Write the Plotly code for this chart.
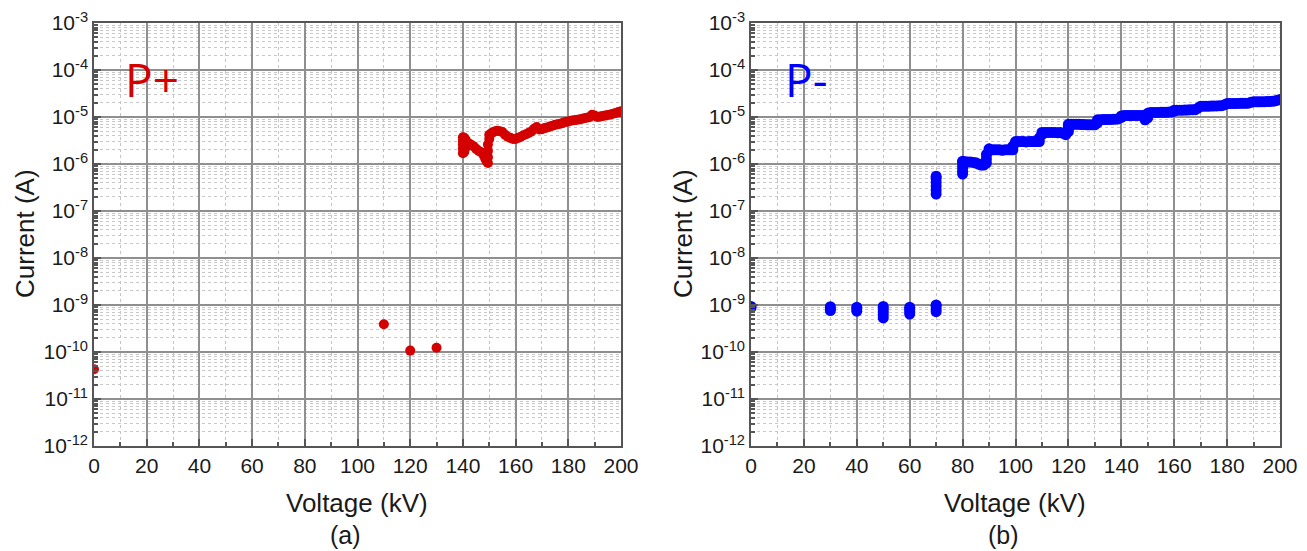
import plotly.graph_objects as go

# ---------------- data ----------------
# Panel (a): P+ polarity
pplus_voltage = [0, 110, 120, 130,
                 140, 140, 140, 140, 140, 140.5, 140.5, 140.5, 140.5, 141, 141,
                 142, 143, 144, 145, 146, 147, 148, 148.5, 149,
                 149.5, 149.5, 149.5, 149.5, 150, 150,
                 151, 152, 153, 154, 155, 156, 157, 158, 159, 160,
                 161, 162, 163, 164, 165, 166, 167, 168, 169, 170,
                 171, 172, 173, 174, 175, 176, 177, 178, 179, 180,
                 181, 182, 183, 184, 185, 186, 187, 188, 189, 190,
                 191, 192, 193, 194, 195, 196, 197, 198, 199, 200]
pplus_current = [4.3e-11, 3.9e-10, 1.07e-10, 1.23e-10,
                 1.7e-6, 2.1e-6, 2.6e-6, 3.1e-6, 3.7e-6, 1.8e-6, 2.4e-6, 3.0e-6, 3.6e-6, 2.2e-6, 3.3e-6,
                 2.8e-6, 2.6e-6, 2.4e-6, 2.1e-6, 1.9e-6, 1.75e-6, 1.5e-6, 1.3e-6, 1.15e-6,
                 1.05e-6, 1.4e-6, 1.9e-6, 2.6e-6, 3.4e-6, 4.2e-6,
                 4.6e-6, 4.9e-6, 5.1e-6, 5.0e-6, 4.8e-6, 4.2e-6, 3.8e-6, 3.6e-6, 3.4e-6, 3.4e-6,
                 3.6e-6, 3.8e-6, 4.1e-6, 4.3e-6, 4.6e-6, 4.9e-6, 5.6e-6, 6.1e-6, 5.4e-6, 5.5e-6,
                 5.8e-6, 6.0e-6, 6.3e-6, 6.5e-6, 6.8e-6, 7.0e-6, 7.2e-6, 7.5e-6, 7.8e-6, 8.0e-6,
                 8.3e-6, 8.5e-6, 8.6e-6, 8.9e-6, 9.1e-6, 9.4e-6, 9.6e-6, 9.9e-6, 1.12e-5, 1.08e-5,
                 1.0e-5, 1.02e-5, 1.05e-5, 1.07e-5, 1.1e-5, 1.13e-5, 1.17e-5, 1.22e-5, 1.27e-5, 1.33e-5]

# Panel (b): P- polarity
pminus_voltage = [0, 0,
                  30, 30, 30, 40, 40, 40,
                  50, 50, 50, 50, 50, 60, 60, 60, 60, 70, 70, 70, 70,
                  70, 70, 70, 70, 70, 70,
                  80, 80, 80, 80, 80, 80,
                  81, 82, 83, 84, 85, 86, 87, 88, 89, 89, 89, 90, 90,
                  91, 92, 93, 94, 95, 96, 97, 98, 99, 99, 100, 100,
                  101, 102, 103, 104, 105, 106, 107, 108, 109, 109, 110, 110,
                  111, 112, 113, 114, 115, 116, 117, 118, 119, 119,
                  120, 120, 120, 120,
                  121, 122, 123, 124, 125, 126, 127, 128, 129, 130,
                  131, 131, 131, 132, 133, 134, 135, 136, 137, 138, 139,
                  140, 140, 141, 142, 143, 144, 145, 146, 147, 148, 149, 149,
                  150, 150, 150, 151, 152, 153, 154, 155, 156, 157, 158, 159,
                  160, 160, 161, 162, 163, 164, 165, 166, 167, 168,
                  169, 170, 171, 172, 173, 174, 175, 176, 177, 178,
                  179, 180, 181, 182, 183, 184, 185, 186, 187, 188,
                  189, 190, 191, 192, 193, 194, 195, 196, 197, 198, 199, 200]
pminus_current = [8.7e-10, 9.3e-10,
                  7.6e-10, 8.2e-10, 9.2e-10, 7.4e-10, 8.4e-10, 9.0e-10,
                  5.3e-10, 6.2e-10, 7.2e-10, 8.3e-10, 9.3e-10, 6.4e-10, 7.3e-10, 8.2e-10, 9.0e-10, 7.2e-10, 8.2e-10, 9.5e-10, 1.0e-9,
                  2.3e-7, 2.8e-7, 3.4e-7, 4.1e-7, 5.0e-7, 5.5e-7,
                  6.1e-7, 7.0e-7, 8.2e-7, 9.5e-7, 1.1e-6, 1.15e-6,
                  1.12e-6, 1.1e-6, 1.1e-6, 1.08e-6, 1.06e-6, 1.0e-6, 9.5e-7, 9.5e-7, 1.05e-6, 1.3e-6, 1.6e-6, 1.9e-6, 2.1e-6,
                  2.0e-6, 2.0e-6, 2.0e-6, 2.0e-6, 1.95e-6, 2.0e-6, 2.0e-6, 2.0e-6, 2.0e-6, 2.4e-6, 2.8e-6, 3.0e-6,
                  3.0e-6, 3.0e-6, 3.0e-6, 2.95e-6, 3.0e-6, 3.0e-6, 3.0e-6, 3.0e-6, 3.0e-6, 3.6e-6, 4.2e-6, 4.7e-6,
                  4.7e-6, 4.7e-6, 4.7e-6, 4.7e-6, 4.7e-6, 4.6e-6, 4.7e-6, 4.5e-6, 4.2e-6, 4.6e-6,
                  4.9e-6, 5.6e-6, 6.4e-6, 7.0e-6,
                  7.0e-6, 7.0e-6, 7.0e-6, 7.0e-6, 6.9e-6, 6.9e-6, 6.8e-6, 6.8e-6, 6.8e-6, 6.8e-6,
                  7.5e-6, 8.2e-6, 8.7e-6, 8.7e-6, 8.8e-6, 8.8e-6, 8.9e-6, 8.9e-6, 9.0e-6, 9.0e-6, 9.2e-6,
                  9.8e-6, 1.05e-5, 1.07e-5, 1.07e-5, 1.07e-5, 1.07e-5, 1.08e-5, 1.08e-5, 1.08e-5, 1.08e-5, 9.6e-6, 8.7e-6,
                  9.6e-6, 1.1e-5, 1.2e-5, 1.25e-5, 1.25e-5, 1.25e-5, 1.25e-5, 1.26e-5, 1.26e-5, 1.26e-5, 1.27e-5, 1.28e-5,
                  1.33e-5, 1.4e-5, 1.4e-5, 1.4e-5, 1.4e-5, 1.41e-5, 1.41e-5, 1.42e-5, 1.42e-5, 1.43e-5,
                  1.55e-5, 1.7e-5, 1.7e-5, 1.7e-5, 1.7e-5, 1.71e-5, 1.72e-5, 1.72e-5, 1.73e-5, 1.74e-5,
                  1.82e-5, 1.93e-5, 1.93e-5, 1.93e-5, 1.94e-5, 1.94e-5, 1.95e-5, 1.95e-5, 1.96e-5, 1.97e-5,
                  2.05e-5, 2.1e-5, 2.1e-5, 2.1e-5, 2.11e-5, 2.12e-5, 2.13e-5, 2.14e-5, 2.16e-5, 2.2e-5, 2.28e-5, 2.35e-5]

x_tick_values = [0, 20, 40, 60, 80, 100, 120, 140, 160, 180, 200]
x_minor_values = [10, 30, 50, 70, 90, 110, 130, 150, 170, 190]
y_exponents = [-12, -11, -10, -9, -8, -7, -6, -5, -4, -3]

# ---------------- figure ----------------
OFF = 8                     # page body margin
W, H = 1307 - OFF, 551 - OFF


def px(x):
    return (x - OFF) / W


def py(y):
    return 1 - (y - OFF) / H


fig = go.Figure()

fig.add_trace(go.Scatter(x=pplus_voltage, y=pplus_current, mode="markers",
                         marker=dict(color="#d40000", size=10, line=dict(width=0)),
                         xaxis="x", yaxis="y", showlegend=False))
fig.add_trace(go.Scatter(x=pminus_voltage, y=pminus_current, mode="markers",
                         marker=dict(color="#0000ff", size=11, line=dict(width=0)),
                         xaxis="x2", yaxis="y2", showlegend=False))

tick_font = dict(family="Liberation Sans, Arial, sans-serif", size=21, color="#1a1a1a")
y_tickvals = [10.0 ** e for e in y_exponents]
y_ticktext = ["10<sup>%d</sup>" % e for e in y_exponents]
y_minor = [k * 10.0 ** e for e in y_exponents[:-1] for k in range(2, 10)]


def xaxis_style(domain, anchor):
    return dict(domain=domain, anchor=anchor, range=[0, 200],
                tickmode="array", tickvals=x_tick_values,
                ticks="inside", ticklen=7, tickwidth=1.5, tickcolor="#555",
                showline=True, linecolor="#555", linewidth=1.5, mirror=True,
                showgrid=True, gridcolor="#8f8f8f", gridwidth=1.6, zeroline=False,
                minor=dict(tickvals=x_minor_values, ticks="inside", ticklen=4,
                           tickcolor="#555", showgrid=True, gridcolor="#c4c4c4",
                           griddash="dot", gridwidth=1),
                tickfont=tick_font, automargin=False, fixedrange=True)


def yaxis_style(anchor):
    return dict(domain=[py(446), py(23)], anchor=anchor, type="log",
                range=[-12, -3], tickmode="array", tickvals=y_tickvals, ticktext=y_ticktext,
                ticks="inside", ticklen=7, tickwidth=1.5, tickcolor="#555",
                showline=True, linecolor="#555", linewidth=1.5, mirror=True,
                showgrid=True, gridcolor="#8f8f8f", gridwidth=1.6, zeroline=False,
                minor=dict(tickvals=y_minor, ticks="inside", ticklen=4,
                           tickcolor="#555", showgrid=True, gridcolor="#c8c8c8",
                           griddash="dot", gridwidth=1),
                tickfont=tick_font, automargin=False, fixedrange=True)


fig.update_layout(
    width=W, height=H, margin=dict(l=0, r=0, t=0, b=0),
    paper_bgcolor="white", plot_bgcolor="white",
    xaxis=xaxis_style([px(94), px(621)], "y"),
    yaxis=yaxis_style("x"),
    xaxis2=xaxis_style([px(751), px(1280)], "y2"),
    yaxis2=yaxis_style("x2"),
)

title_font = dict(family="Liberation Sans, Arial, sans-serif", size=26, color="#1a1a1a")
ann = []
# Axis titles
for cx in (357, 1015):
    ann.append(dict(text="Voltage (kV)", x=px(cx), y=py(503), xref="paper", yref="paper",
                    showarrow=False, font=title_font, xanchor="center", yanchor="middle"))
for cx in (25, 683):
    ann.append(dict(text="Current (A)", x=px(cx), y=py(234), xref="paper", yref="paper",
                    showarrow=False, font=title_font, textangle=-90, xanchor="center", yanchor="middle"))
for cx, lab in ((345, "(a)"), (1003, "(b)")):
    ann.append(dict(text=lab, x=px(cx), y=py(535), xref="paper", yref="paper",
                    showarrow=False,
                    font=dict(family="Liberation Sans, Arial, sans-serif", size=25, color="#1a1a1a"),
                    xanchor="center", yanchor="middle"))
# Panel labels
ann.append(dict(text="P+", x=11, y=-4.19, xref="x", yref="y", showarrow=False,
                font=dict(family="Open Sans, sans-serif", size=46, color="#d40000"),
                xanchor="left", yanchor="middle"))
ann.append(dict(text="P-", x=12, y=-4.19, xref="x2", yref="y2", showarrow=False,
                font=dict(family="Open Sans, sans-serif", size=46, color="#0000ff"),
                xanchor="left", yanchor="middle"))
fig.update_layout(annotations=ann)

fig.write_html("out.html")
